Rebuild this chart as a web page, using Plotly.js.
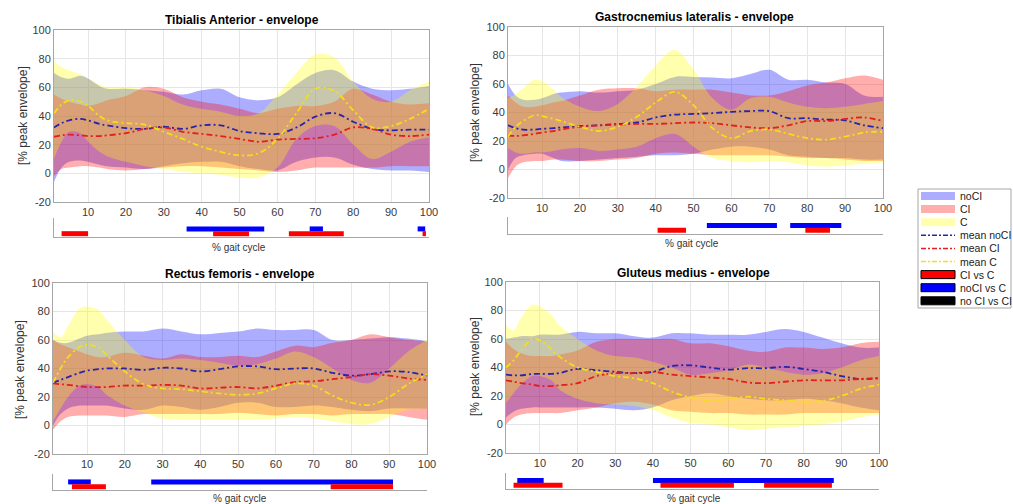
<!DOCTYPE html>
<html><head><meta charset="utf-8">
<script src="https://cdn.plot.ly/plotly-3.0.1.min.js"></script>
<style>html,body{margin:0;padding:0;background:#fff}#chart{width:1013px;height:504px}</style>
</head><body><div id="chart"></div>
<script>
// ---------- data ----------
const gait = [1,3,5,8,10,13,15,20,25,30,35,40,45,50,55,60,65,70,75,80,85,90,95,100];
const xTicks = [10,20,30,40,50,60,70,80,90,100];
const yTicks = [-20,0,20,40,60,80,100];
const muscleTitles = ['Tibialis Anterior - envelope','Gastrocnemius lateralis - envelope','Rectus femoris - envelope','Gluteus medius - envelope'];
const legendLabels = ['noCI','CI','C','mean noCI','mean CI','mean C','CI vs C','noCI vs C','no CI vs CI'];
const yLabel = '[% peak envelope]';
const xLabel = '% gait cycle';

// Tibialis Anterior
const taNoCIMean = [32,35,37,38,37,34.5,33.5,31.5,31,32.5,31,33.5,33.5,29.5,28,27.5,32,39.5,42,36,31,30,30.5,30.5];
const taNoCIUp   = [70,67,66,68,66,61,59,59,58,57,55,58,59,53,51,53,62,70,72,64,59,58,59,61];
const taNoCILo   = [-6,4,8,9,8,6,5,4,3,5,7,8,8,5,3,2,8,11,11,6,3,2,2,1];
const taCIMean   = [25.5,26.5,27,26.5,26,26,26.5,28,31,32,29,27.5,26,24,22,23.5,24,24.5,27,32,31,27,26,27];
const taCIUp     = [55,52,50,48,47,49,51,54,60,59,53,50,48,45,42,45,47,47,50,59,55,50,48,49];
const taCILo     = [-2,3,4,5,5,4,3,2,3,4,5,5,4,3,2,1,2,4,4,4,4,5,5,5];
const taCMean    = [42,48,51,50,47,40,37,35,34,29,24,18.5,15,12.5,14,24,42,59,57.5,44,32,33,38,45];
const taCUp      = [78,74,72,69,66,62,60,60,58,54,48,45,43,40,42,55,70,83,81,64,52,50,58,64];
const taCLo      = [10,22,29,28,22,15,12,8,5,3,1,0,-1,-3,-3,4,24,33,33,20,10,15,22,25];
const taCIvsC    = [[3,10],[43,52.5],[63,77.5],[98.3,99.2]];
const taNoCIvsC  = [[36,56.5],[68.5,72],[97,99]];

// Gastrocnemius lateralis
const glNoCIMean = [31,29,28,28,28.5,29,29.5,30.5,31,32,33,36.5,38.5,39,39.5,40.5,41,41,36,36,35,34.5,31,29];
const glNoCIUp   = [60,52,49,49,50,53,54,55,54,55,56,60,65,65,64.5,64,67,70,63,63,61,60,52,51];
const glNoCILo   = [0,8,10,11,11,8,6,6,7,8,9,10,10,11,14,16,16,14,10,9,8,8,7,7];
const glCIMean   = [24,23.5,24,25,26,27,28,30,31,31.5,32,32,32.5,33,32.5,31,29.5,29,31,34,34,35.5,36.5,34];
const glCIUp     = [52,47,44,44,45,47,48,52,56,57,57,55,56,56,56,54,52,52,55,59,61,64,66,63];
const glCILo     = [-6,2,5,6,6,7,7,6,6,7,8,11,12,11,10,10,10,10,9,8,8,7,6,6];
const glCMean    = [23,30,34,38,37.5,35.5,34,30,27,30,37,47,54.5,45,29,22,27,28,25,22,21,23,26,26.5];
const glCUp      = [50,53,57,63,62,56,51,44,41,46,58,73,84,70,50,42,50,51,47,44,43,44,46,48];
const glCLo      = [15,12,11,12,12,13,14,15,13,14,16,22,25,16,8,6,5,6,5,3,2,3,4,5];
const glCIvsC    = [[40.5,48],[79.5,86]];
const glNoCIvsC  = [[53.5,72],[75.5,89]];

// Rectus femoris
const rfNoCIMean = [30,32,34,37,38.5,39.5,40,40,39,40.5,40,38,39.5,41.5,41.5,39.5,40,40,37,35,36,38,37.5,35];
const rfNoCIUp   = [60,58,58,61,63,64,65,66,66,68,66,64,65,66,68,67,67,67,60,60,61,62,61,59];
const rfNoCILo   = [0,8,12,14,14,14,14,12,11,14,13,11,13,16,16,13,13,14,13,11,10,12,12,12];
const rfCIMean   = [29.5,29,28.5,27.5,27,27,27,28,28,28.5,28,26,26.5,27,26,28,30.5,31,32.5,34,36,35,33,32];
const rfCIUp     = [60,57,55,52,50,48,48,51,49,47,50,48,48,49,48,52,56,55,58,60,64,62,60,59];
const rfCILo     = [-3,3,6,7,7,7,7,6,8,8,8,8,8,9,8,7,8,8,7,8,8,8,6,4];
const rfCMean    = [30,40,48,55,56.5,55,50,38,29,26,25.5,24,22.5,21.5,22.5,26,29.5,28,21,16,14.5,20,29,36];
const rfCUp      = [66,62,70,82,83.5,81,75,60,48,46,47,46,44,42,43,47,52,48,40,32,30,40,52,60];
const rfCLo      = [3,12,20,28,29,27,22,14,9,5,4,4,4,4,4,5,6,5,3,1,1,6,11,12];
const rfCIvsC    = [[6,15],[74.5,91]];
const rfNoCIvsC  = [[5,11],[27,91]];

// Gluteus medius
const gmNoCIMean = [35,34.5,34.5,35.5,35.5,35.5,36,39,38,37,36,37,41,41.5,40,38.5,39.5,39.5,40.5,39,37,34,32,32.5];
const gmNoCIUp   = [60,61,62,62,63,63,63,65,64,64,62,61,64,64,63,63,63,65,67,65,61,57,54,54];
const gmNoCILo   = [5,9,11,12,12,12,12,12,12,11,10,12,17,20,22,20,18,17,17,18,17,15,12,10];
const gmCIMean   = [31,30,29,28,27,27,27.5,29,34,36,36,37,35,34,33,32,29.5,29,30,31,31,31,32,32.5];
const gmCIUp     = [58,53,50,48,48,48,49,52,58,60,60,60,60,57,57,55,52,51,54,54,53,54,57,58];
const gmCILo     = [0,5,7,8,8,8,8,10,12,15,16,14,10,9,8,8,7,7,7,8,8,8,8,8];
const gmCMean    = [40,45,52,60,59,53,48,40,37,34,32.5,29,23,19,17,18,19.5,18,17,16,16.5,20,25,28];
const gmCUp      = [70,66,75,84,83,77,70,60,52,48,47,44,40,35,36,38,42,40,37,35,36,40,45,48];
const gmCLo      = [15,22,28,34,34,31,25,18,15,14,13,10,5,1,0,-2,-4,-3,-2,-1,0,2,5,7];
const gmCIvsC    = [[3,16],[42,61.5],[69.5,87.5]];
const gmNoCIvsC  = [[4,11],[40,88]];

// ---------- styling / geometry ----------
const W = 1013, H = 504;
const FONT = 'Liberation Sans, Arial, Helvetica, sans-serif';
const bandFill = ['rgba(0,0,255,0.32)','rgba(255,0,0,0.32)','rgba(255,255,0,0.32)'];
const meanColor = ['#2a24aa','#e41e1e','#f2de1a'];
const sigColor = {ci:'#ff0000', noci:'#0000ff'};
const axisGrey = '#a6a6a6';
const PX = v => v / W;
const PY = v => 1 - v / H;

const panels = [
  {bands:[[taNoCILo,taNoCIUp],[taCILo,taCIUp],[taCLo,taCUp]], means:[taNoCIMean,taCIMean,taCMean], ci:taCIvsC, noci:taNoCIvsC,
   main:[54,429,30,202], sig:[54,429,218,237], title:[242,20.5], ylab:[23,116], xlab:[239,247]},
  {bands:[[glNoCILo,glNoCIUp],[glCILo,glCIUp],[glCLo,glCUp]], means:[glNoCIMean,glCIMean,glCMean], ci:glCIvsC, noci:glNoCIvsC,
   main:[508,883,27,198], sig:[508,883,217,233.5], title:[694,17.5], ylab:[475,113], xlab:[692,243]},
  {bands:[[rfNoCILo,rfNoCIUp],[rfCILo,rfCIUp],[rfCLo,rfCUp]], means:[rfNoCIMean,rfCIMean,rfCMean], ci:rfCIvsC, noci:rfNoCIvsC,
   main:[53,427,283,454], sig:[53,427,474,490], title:[240,274], ylab:[20,370], xlab:[240,498.5]},
  {bands:[[gmNoCILo,gmNoCIUp],[gmCILo,gmCIUp],[gmCLo,gmCUp]], means:[gmNoCIMean,gmCIMean,gmCMean], ci:gmCIvsC, noci:gmNoCIvsC,
   main:[506,879,282,453], sig:[506,879,473,488.5], title:[693,273], ylab:[475,367], xlab:[694,498]}
];

const traces = [];
const layout = {
  width: W, height: H, margin:{l:0,r:0,t:0,b:0}, showlegend:false,
  paper_bgcolor:'#ffffff', plot_bgcolor:'#ffffff',
  font:{family:FONT, size:11, color:'#333333'},
  annotations:[], shapes:[]
};

function segTrace(segs, level, color, xa, ya){
  const xs = [], ys = [];
  segs.forEach(s => { xs.push(s[0], s[1], null); ys.push(level, level, null); });
  return {x:xs, y:ys, xaxis:xa, yaxis:ya, mode:'lines', line:{color:color, width:5}, hoverinfo:'skip', connectgaps:false};
}

panels.forEach((p, i) => {
  const n = i + 1, s = i + 5;
  const xa = 'x' + (n === 1 ? '' : n), ya = 'y' + (n === 1 ? '' : n);
  const sxa = 'x' + s, sya = 'y' + s;
  p.bands.forEach((b, g) => {
    traces.push({x:gait, y:b[0], xaxis:xa, yaxis:ya, mode:'lines', line:{width:0, shape:'spline', smoothing:1}, hoverinfo:'skip'});
    traces.push({x:gait, y:b[1], xaxis:xa, yaxis:ya, mode:'lines', line:{width:0, shape:'spline', smoothing:1}, fill:'tonexty', fillcolor:bandFill[g], hoverinfo:'skip'});
  });
  p.means.forEach((m, g) => {
    traces.push({x:gait, y:m, xaxis:xa, yaxis:ya, mode:'lines', line:{color:meanColor[g], width:1.8, dash:'6px,3px,2px,3px', shape:'spline', smoothing:1}, hoverinfo:'skip'});
  });
  traces.push(segTrace(p.noci, 2, sigColor.noci, sxa, sya));
  traces.push(segTrace(p.ci, 1, sigColor.ci, sxa, sya));

  const [x0, x1, y0, y1] = p.main;
  const xKey = 'xaxis' + (n === 1 ? '' : n), yKey = 'yaxis' + (n === 1 ? '' : n);
  layout[xKey] = {domain:[PX(x0), PX(x1)], anchor:ya, range:[1,100], tickvals:xTicks, ticktext:xTicks.map(String),
    showgrid:true, gridcolor:'#e6e6e6', gridwidth:1, zeroline:false, showline:true, mirror:true, linecolor:axisGrey, linewidth:1,
    ticks:'', tickfont:{size:11, color:'#3a3a3a'}, fixedrange:true};
  layout[yKey] = {domain:[PY(y1), PY(y0)], anchor:xa, range:[-20,100], tickvals:yTicks, ticktext:yTicks.map(String),
    showgrid:true, gridcolor:'#e6e6e6', gridwidth:1, zeroline:false, showline:true, mirror:true, linecolor:axisGrey, linewidth:1,
    ticks:'', tickfont:{size:11, color:'#3a3a3a'}, fixedrange:true};

  const [sx0, sx1, sy0, sy1] = p.sig;
  const hpx = sy1 - sy0;
  layout['xaxis' + s] = {domain:[PX(sx0), PX(sx1)], anchor:sya, range:[1,100], showgrid:false, zeroline:false,
    showline:true, linecolor:axisGrey, linewidth:1, showticklabels:false, ticks:'', fixedrange:true};
  layout['yaxis' + s] = {domain:[PY(sy1), PY(sy0)], anchor:sxa, range:[0.3, 0.3 + hpx / 4.75], showgrid:false, zeroline:false,
    showline:true, linecolor:axisGrey, linewidth:1, showticklabels:false, ticks:'', fixedrange:true};

  layout.annotations.push({xref:'paper', yref:'paper', x:PX(p.title[0]), y:PY(p.title[1]), xanchor:'center', yanchor:'middle',
    text:'<b>' + muscleTitles[i] + '</b>', showarrow:false, font:{size:12, color:'#000000', family:FONT}});
  layout.annotations.push({xref:'paper', yref:'paper', x:PX(p.ylab[0]), y:PY(p.ylab[1]), xanchor:'center', yanchor:'middle',
    text:yLabel, textangle:-90, showarrow:false, font:{size:12, color:'#333333', family:FONT}});
  layout.annotations.push({xref:'paper', yref:'paper', x:PX(p.xlab[0]), y:PY(p.xlab[1]), xanchor:'center', yanchor:'middle',
    text:xLabel, showarrow:false, font:{size:10, color:'#333333', family:FONT}});
});

// ---------- legend (drawn manually) ----------
const lg = {x0:918, x1:1011, y0:189, y1:308, px0:921, px1:955, tx:958, first:196, step:13.1};
layout.shapes.push({type:'rect', xref:'paper', yref:'paper', x0:PX(lg.x0), x1:PX(lg.x1), y0:PY(lg.y1), y1:PY(lg.y0),
  line:{color:axisGrey, width:1}, fillcolor:'#ffffff', layer:'below'});
const legendStyle = [
  {kind:'patch', fill:bandFill[0]}, {kind:'patch', fill:bandFill[1]}, {kind:'patch', fill:bandFill[2]},
  {kind:'line', color:meanColor[0]}, {kind:'line', color:meanColor[1]}, {kind:'line', color:meanColor[2]},
  {kind:'box', fill:'#ff0000'}, {kind:'box', fill:'#0000ff'}, {kind:'box', fill:'#000000'}
];
legendLabels.forEach((lab, k) => {
  const cy = lg.first + lg.step * k;
  const st = legendStyle[k];
  if (st.kind === 'line') {
    layout.shapes.push({type:'line', xref:'paper', yref:'paper', x0:PX(lg.px0), x1:PX(lg.px1), y0:PY(cy), y1:PY(cy),
      line:{color:st.color, width:1.5, dash:'5px,2px,2px,2px'}});
  } else {
    layout.shapes.push({type:'rect', xref:'paper', yref:'paper', x0:PX(lg.px0), x1:PX(lg.px1), y0:PY(cy + 4), y1:PY(cy - 4),
      fillcolor:st.fill, line:{color:'#000000', width:st.kind === 'box' ? 1 : 0}});
  }
  layout.annotations.push({xref:'paper', yref:'paper', x:PX(lg.tx), y:PY(cy), xanchor:'left', yanchor:'middle',
    text:lab, showarrow:false, font:{size:10.5, color:'#222222', family:FONT}});
});

Plotly.newPlot('chart', traces, layout, {displayModeBar:false, staticPlot:true});
</script></body></html>
